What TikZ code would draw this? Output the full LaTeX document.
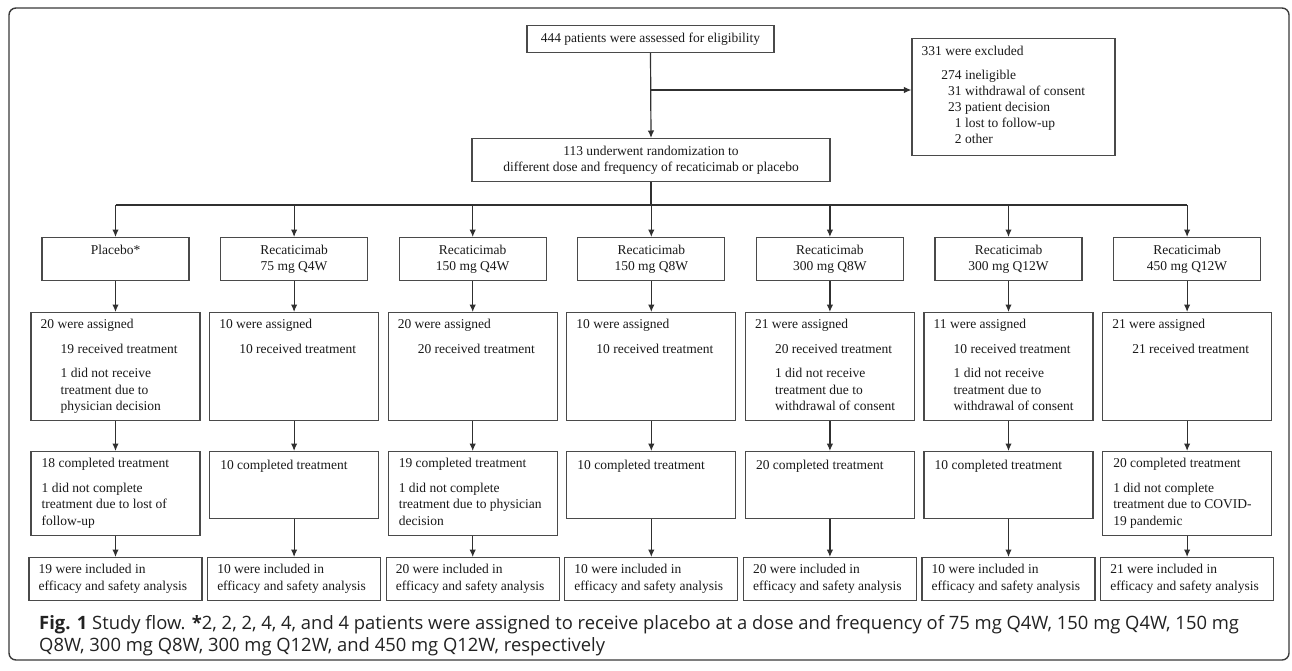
\documentclass[tikz,border=0pt]{standalone}
\usepackage{fontspec}
\setmainfont{Liberation Serif}
\newfontfamily\capfont{Open Sans}
\usetikzlibrary{arrows.meta,calc}
\definecolor{txtcol}{HTML}{1A1A1A}
\definecolor{boxcol}{HTML}{4A4A4A}
\definecolor{linecol}{HTML}{303030}
\definecolor{framecol}{HTML}{3A3A3A}
\definecolor{capcol}{HTML}{222222}
\newcommand\mainsz{\fontsize{13.5}{16.5}\selectfont}
\newcommand\exclsz{\fontsize{13.5}{16}\selectfont}
\newcommand\capsz{\capfont\fontsize{18.4}{21.5}\selectfont}
\newcommand\ind{\hspace*{20pt}}
\tikzset{
  bx/.style={draw=boxcol, line width=1.1pt, inner sep=0pt, anchor=north, text=txtcol, font=\mainsz},
  tx/.style={inner sep=0pt, anchor=north west, align=left, text=txtcol, font=\mainsz,
    execute at begin node={\rule{0pt}{11pt}}},
  arr/.style={draw=linecol, line width=1.2pt, -{Latex[length=7.5pt,width=6.5pt]}},
  ln/.style={draw=linecol, line width=1.2pt},
  rowA/.style={bx, minimum width=147pt, minimum height=43pt, align=center},
  rowB/.style={bx, minimum width=169pt, minimum height=108pt},
  rowCtall/.style={bx, minimum width=169pt, minimum height=84pt},
  rowCshort/.style={bx, minimum width=169pt, minimum height=67pt},
  rowD/.style={bx, minimum width=173pt, minimum height=43pt}
}
\begin{document}
\begin{tikzpicture}[x=1pt,y=-1pt]
\useasboundingbox (0,0) rectangle (1292,670);
\fill[white] (0,0) rectangle (1292,670);
\draw[framecol, line width=1.4pt, rounded corners=7pt] (9,8) rectangle (1289,660);

% top part
\node[bx, minimum width=247pt, minimum height=27pt] (assess) at (650.5,25) {444 patients were assessed for eligibility};
\node[bx, minimum width=358pt, minimum height=43pt, align=center] (rand) at (651,138) {113 underwent randomization to\\different dose and frequency of recaticimab or placebo};
\node[bx, minimum width=203pt, minimum height=117pt] (excl) at (1013.5,38) {};
\node[tx, font=\exclsz] (exclt) at ($(excl.north west)+(10,7.5)$) {331 were excluded\\[8.5pt]
\makebox[40pt][r]{274} ineligible\\
\makebox[40pt][r]{31} withdrawal of consent\\
\makebox[40pt][r]{23} patient decision\\
\makebox[40pt][r]{1} lost to follow-up\\
\makebox[40pt][r]{2} other};
\coordinate (br) at (651,90);
\draw[arr] (assess.south) -- (rand.north);
\draw[arr] (br) -- (excl.west |- br);

% row 1
\node[rowA] (p1) at (115.5,237) {Placebo*\\\phantom{Ag}};
\node[rowA] (p2) at (294.1,237) {Recaticimab\\75 mg Q4W};
\node[rowA] (p3) at (472.7,237) {Recaticimab\\150 mg Q4W};
\node[rowA] (p4) at (651.3,237) {Recaticimab\\150 mg Q8W};
\node[rowA] (p5) at (829.9,237) {Recaticimab\\300 mg Q8W};
\node[rowA] (p6) at (1008.5,237) {Recaticimab\\300 mg Q12W};
\node[rowA] (p7) at (1187.1,237) {Recaticimab\\450 mg Q12W};

\coordinate (bar) at (651,205);
\draw[ln] (rand.south) -- (bar);
\draw[ln] (p1.north |- bar) -- (p7.north |- bar);
\foreach \k in {1,...,7} { \draw[arr] (p\k.north |- bar) -- (p\k.north); }

% row 2
\node[rowB] (a1) at (115.5,312) {};
\node[rowB] (a2) at (294.1,312) {};
\node[rowB] (a3) at (472.7,312) {};
\node[rowB] (a4) at (651.3,312) {};
\node[rowB] (a5) at (829.9,312) {};
\node[rowB] (a6) at (1008.5,312) {};
\node[rowB] (a7) at (1187.1,312) {};
\node[tx] (a1t) at ($(a1.north west)+(10,7)$) {20 were assigned\\[8pt]\ind 19 received treatment\\[8pt]\ind 1 did not receive\\\ind treatment due to\\\ind physician decision};
\node[tx] (a2t) at ($(a2.north west)+(10,7)$) {10 were assigned\\[8pt]\ind 10 received treatment};
\node[tx] (a3t) at ($(a3.north west)+(10,7)$) {20 were assigned\\[8pt]\ind 20 received treatment};
\node[tx] (a4t) at ($(a4.north west)+(10,7)$) {10 were assigned\\[8pt]\ind 10 received treatment};
\node[tx] (a5t) at ($(a5.north west)+(10,7)$) {21 were assigned\\[8pt]\ind 20 received treatment\\[8pt]\ind 1 did not receive\\\ind treatment due to\\\ind withdrawal of consent};
\node[tx] (a6t) at ($(a6.north west)+(10,7)$) {11 were assigned\\[8pt]\ind 10 received treatment\\[8pt]\ind 1 did not receive\\\ind treatment due to\\\ind withdrawal of consent};
\node[tx] (a7t) at ($(a7.north west)+(10,7)$) {21 were assigned\\[8pt]\ind 21 received treatment};

% row 3
\node[rowCtall] (c1) at (115.5,451) {};
\node[rowCshort] (c2) at (294.1,451) {};
\node[rowCtall] (c3) at (472.7,451) {};
\node[rowCshort] (c4) at (651.3,451) {};
\node[rowCshort] (c5) at (829.9,451) {};
\node[rowCshort] (c6) at (1008.5,451) {};
\node[rowCtall] (c7) at (1187.1,451) {};
\node[tx] (c1t) at ($(c1.north west)+(11,7)$) {18 completed treatment\\[8pt]1 did not complete\\treatment due to lost of\\follow-up};
\node[tx] (c2t) at ($(c2.north west)+(11,7)$) {10 completed treatment};
\node[tx] (c3t) at ($(c3.north west)+(11,7)$) {19 completed treatment\\[8pt]1 did not complete\\treatment due to physician\\decision};
\node[tx] (c4t) at ($(c4.north west)+(11,7)$) {10 completed treatment};
\node[tx] (c5t) at ($(c5.north west)+(11,7)$) {20 completed treatment};
\node[tx] (c6t) at ($(c6.north west)+(11,7)$) {10 completed treatment};
\node[tx] (c7t) at ($(c7.north west)+(11,7)$) {20 completed treatment\\[8pt]1 did not complete\\treatment due to COVID-\\19 pandemic};

% row 4
\node[rowD] (e1) at (115.5,557) {};
\node[rowD] (e2) at (294.1,557) {};
\node[rowD] (e3) at (472.7,557) {};
\node[rowD] (e4) at (651.3,557) {};
\node[rowD] (e5) at (829.9,557) {};
\node[rowD] (e6) at (1008.5,557) {};
\node[rowD] (e7) at (1187.1,557) {};
\node[tx] (e1t) at ($(e1.north west)+(10,7)$) {19 were included in\\efficacy and safety analysis};
\node[tx] (e2t) at ($(e2.north west)+(10,7)$) {10 were included in\\efficacy and safety analysis};
\node[tx] (e3t) at ($(e3.north west)+(10,7)$) {20 were included in\\efficacy and safety analysis};
\node[tx] (e4t) at ($(e4.north west)+(10,7)$) {10 were included in\\efficacy and safety analysis};
\node[tx] (e5t) at ($(e5.north west)+(10,7)$) {20 were included in\\efficacy and safety analysis};
\node[tx] (e6t) at ($(e6.north west)+(10,7)$) {10 were included in\\efficacy and safety analysis};
\node[tx] (e7t) at ($(e7.north west)+(10,7)$) {21 were included in\\efficacy and safety analysis};

\foreach \k in {1,...,7} {
  \draw[arr] (p\k.south) -- (a\k.north);
  \draw[arr] (a\k.south) -- (c\k.north);
  \draw[arr] (c\k.south) -- (e\k.north);
}

% caption
\node[inner sep=0pt, anchor=base west, align=left, font=\capsz, text=capcol] (cap) at (39,651) {\textbf{Fig. 1} Study flow. \textbf{*}2, 2, 2, 4, 4, and 4 patients were assigned to receive placebo at a dose and frequency of 75 mg Q4W, 150 mg Q4W, 150 mg\\Q8W, 300 mg Q8W, 300 mg Q12W, and 450 mg Q12W, respectively};
\end{tikzpicture}
\end{document}
